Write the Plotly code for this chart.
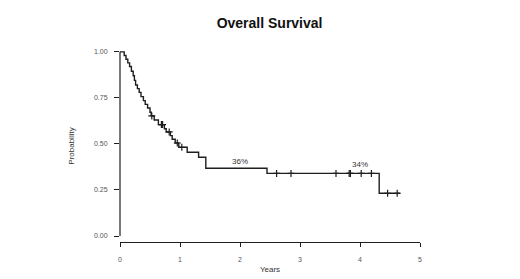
import numpy as np
import plotly.graph_objects as go

# Kaplan-Meier step function (time in years, survival probability after each step)
step_times = [0.00, 0.07, 0.10, 0.13, 0.16, 0.19, 0.22, 0.24, 0.26, 0.29, 0.32, 0.35,
              0.39, 0.42, 0.46, 0.50, 0.52, 0.57, 0.64, 0.74, 0.77, 0.84, 0.87, 0.92,
              0.98, 1.12, 1.31, 1.43, 2.45, 4.32]
step_surv = [1.000, 0.980, 0.960, 0.940, 0.920, 0.895, 0.870, 0.845, 0.820, 0.800, 0.780, 0.757,
             0.735, 0.715, 0.695, 0.672, 0.652, 0.630, 0.605, 0.582, 0.565, 0.545, 0.525, 0.505,
             0.482, 0.455, 0.428, 0.368, 0.340, 0.232]
end_time = 4.67

# Censoring times
censor_times = [0.53, 0.69, 0.71, 0.82, 0.955, 1.03, 2.61, 2.85, 3.60, 3.82, 3.84, 4.02, 4.19, 4.46, 4.62]

# Annotations
label_text = ["36%", "34%"]
label_x = [2.0, 4.0]
label_y = [0.40, 0.388]

x_ticks = [0, 1, 2, 3, 4, 5]
y_ticks = [0.00, 0.25, 0.50, 0.75, 1.00]
y_tick_text = ["0.00", "0.25", "0.50", "0.75", "1.00"]

t_line = step_times + [end_time]
s_line = step_surv + [step_surv[-1]]

idx = np.searchsorted(np.array(step_times), np.array(censor_times), side="right") - 1
censor_surv = [step_surv[i] for i in idx]

ink = "#1e1e1e"
font_family = "Liberation Sans, Arial, sans-serif"

fig = go.Figure()
fig.add_trace(go.Scatter(x=t_line, y=s_line, mode="lines", line=dict(shape="hv", color=ink, width=1.4),
                         hoverinfo="skip", showlegend=False))
fig.add_trace(go.Scatter(x=censor_times, y=censor_surv, mode="markers",
                         marker=dict(symbol="cross-thin", size=5, line=dict(color=ink, width=1.2)),
                         showlegend=False, cliponaxis=False))
fig.add_trace(go.Scatter(x=label_x, y=label_y, mode="text", text=label_text,
                         textfont=dict(size=8, color="#333", family=font_family),
                         showlegend=False))

# y-axis line from 0 to 1 (R style, not reaching the offset x-axis)
fig.add_shape(type="line", xref="paper", yref="y", x0=0, x1=0, y0=0, y1=1,
              line=dict(color=ink, width=1.2))

fig.update_layout(
    width=520, height=279,
    margin=dict(l=112, r=108, t=42, b=45),
    paper_bgcolor="white", plot_bgcolor="white",
    title=dict(text="<b>Overall Survival</b>", x=0.503, xanchor="center", y=0.945, yanchor="middle",
               font=dict(size=14, color="#111", family=font_family)),
    xaxis=dict(range=[0, 5], tickvals=x_ticks, showgrid=False, zeroline=False,
               showline=True, linecolor=ink, linewidth=1.2, ticks="outside", ticklen=4,
               tickcolor=ink, tickwidth=1.2, tickfont=dict(size=7, color="#555", family=font_family),
               ticklabelstandoff=6,
               title=dict(text="Years", font=dict(size=8, color="#333", family=font_family), standoff=4)),
    yaxis=dict(range=[-0.0326, 1.01], tickvals=y_ticks, ticktext=y_tick_text, showgrid=False,
               zeroline=False, showline=False, ticks="outside", ticklen=5, tickcolor=ink, tickwidth=1.2,
               tickfont=dict(size=7, color="#555", family=font_family),
               ticklabelstandoff=5,
               title=dict(text="Probability", font=dict(size=8, color="#333", family=font_family), standoff=18)),
)

fig.write_html("out.html")
